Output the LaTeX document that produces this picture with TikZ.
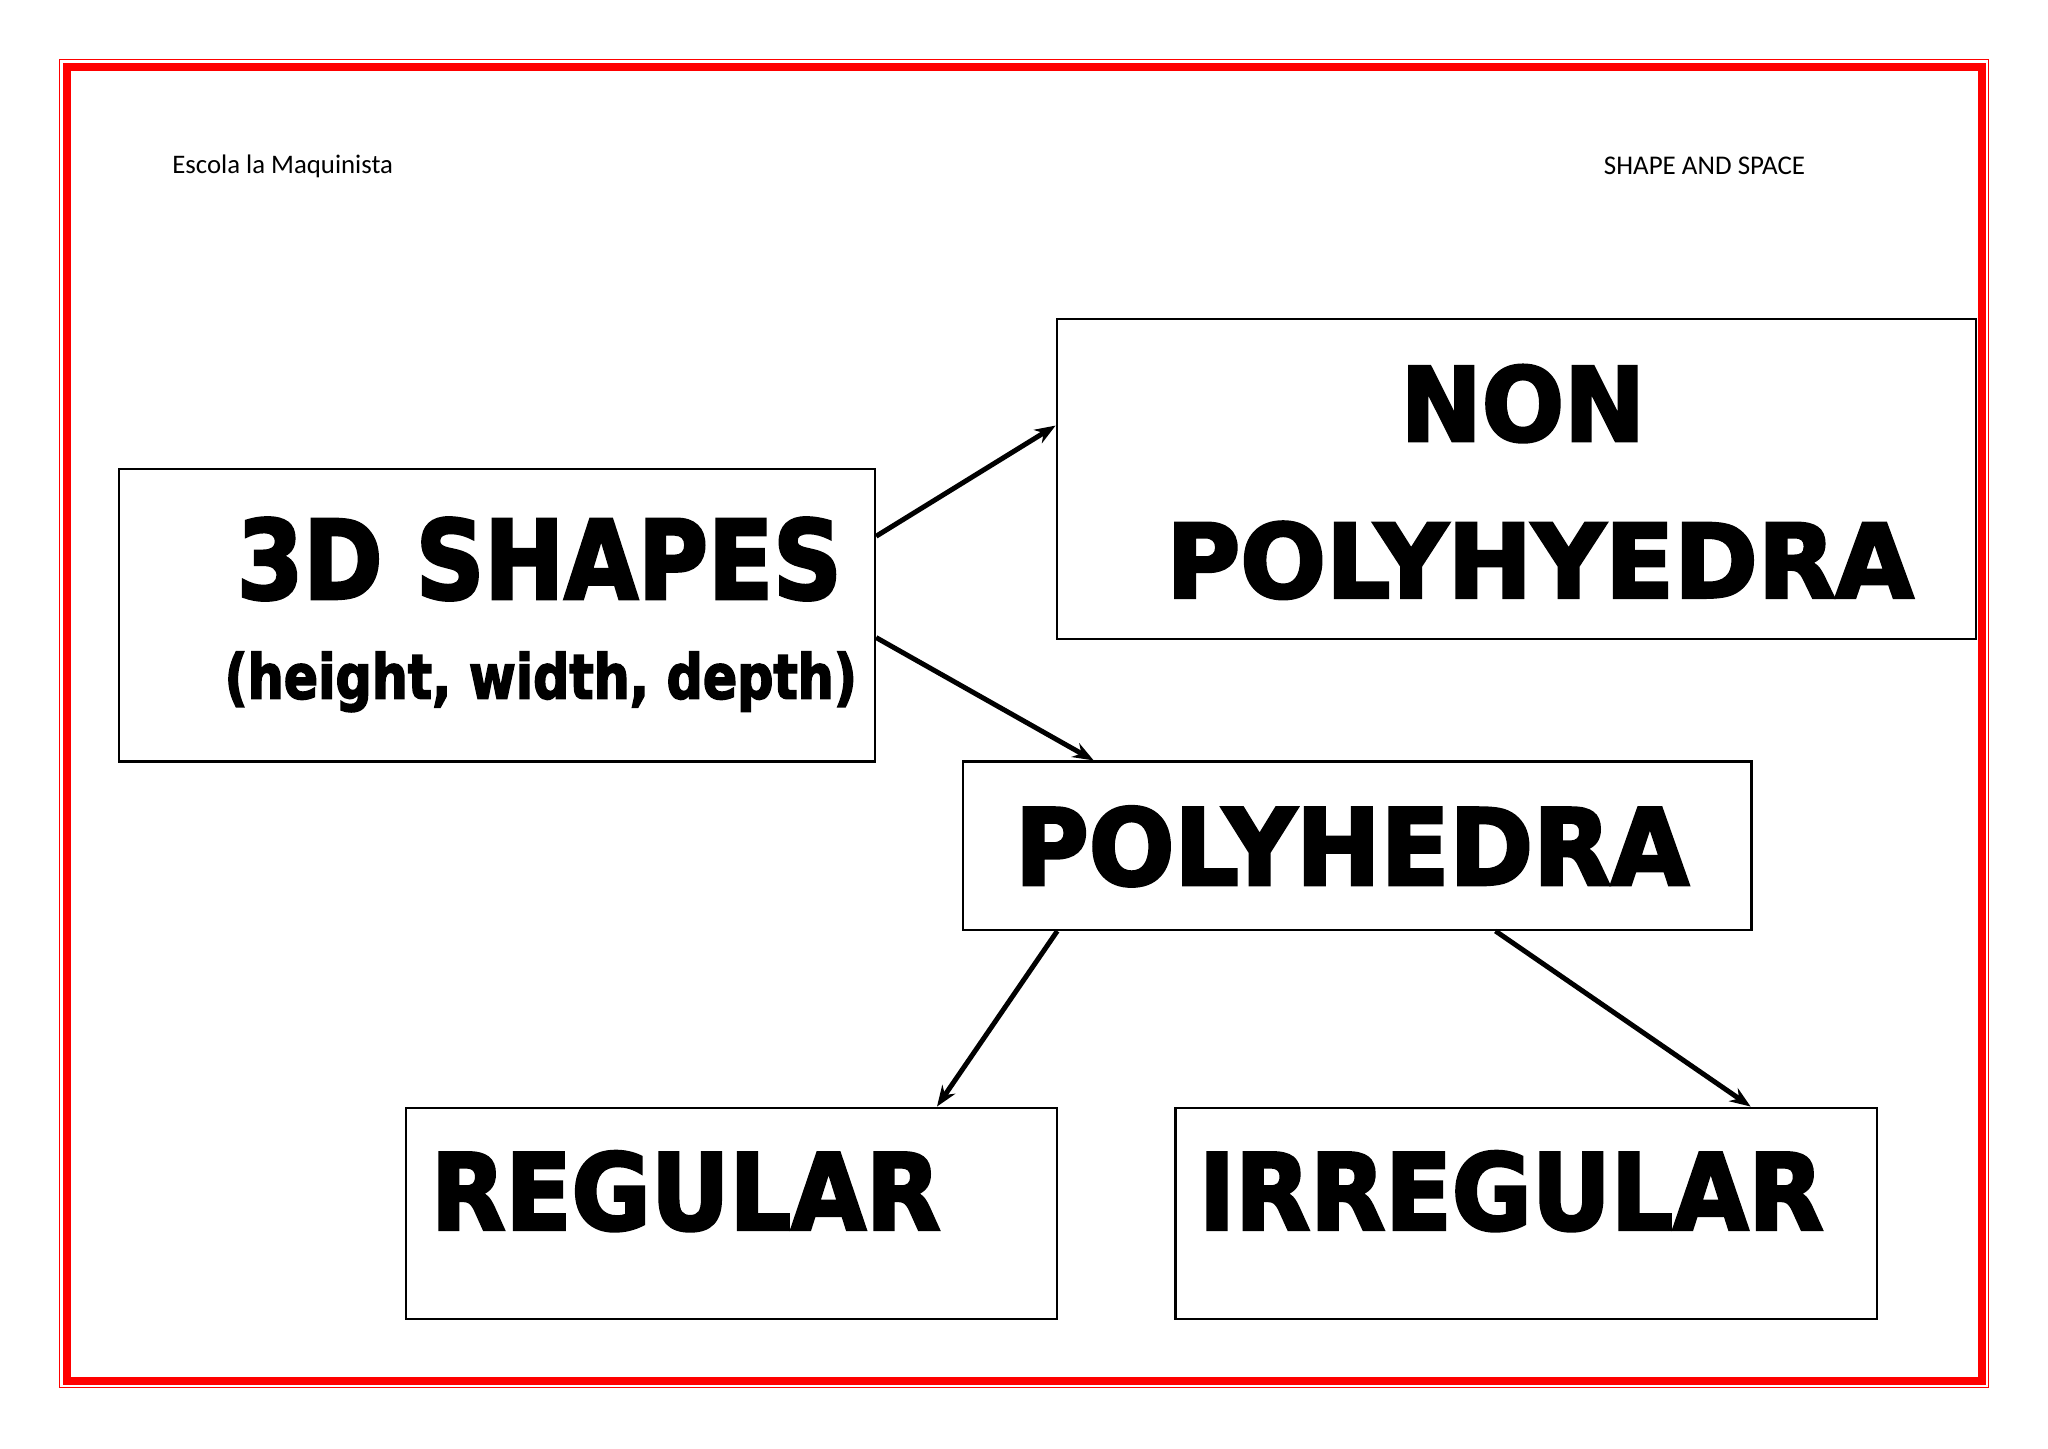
\documentclass[tikz,border=0pt]{standalone}
\usepackage{fontspec}
\usepackage{graphicx}
\usetikzlibrary{arrows.meta,calc}
\setmainfont{Carlito}
\newfontfamily\heavyfont{DejaVu Sans}[UprightFont=* Bold, UprightFeatures={FakeBold=3}]
\tikzset{
  box/.style={draw=black, line width=1.6pt, rectangle, inner sep=0pt, fill=white},
  conn/.style={draw=black, line width=3.8pt, -{Stealth[length=16pt,width=12pt]}},
  small/.style={inner sep=0pt, text=black},
  big/.style={inner sep=0pt, text=black}
}
\begin{document}
\begin{tikzpicture}[x=1pt,y=-1pt]
\useasboundingbox (0,0) rectangle (1568,1109);
\fill[white] (0,0) rectangle (1568,1109);
% page border
\draw[red, line width=1pt] (45.5,45.5) rectangle (1522.5,1062.5);
\draw[red, line width=6pt] (51,51) rectangle (1517.5,1057.5);
% header texts
\node[small] (school) at (216.5,127.5) {\resizebox{169pt}{!}{Escola la Maquinista}};
\node[small] (topic) at (1305,127) {\resizebox{154pt}{!}{SHAPE AND SPACE}};
% boxes
\node[box, minimum width=579pt, minimum height=224pt] (s) at (380.5,471) {};
\node[box, minimum width=704pt, minimum height=245pt] (n) at (1161,366.5) {};
\node[box, minimum width=604pt, minimum height=129pt] (p) at (1039,647.5) {};
\node[box, minimum width=498pt, minimum height=162pt] (r) at (560,929) {};
\node[box, minimum width=537pt, minimum height=162pt] (i) at (1168.5,929) {};
% texts
\node[big] (st) at (413,428) {\resizebox{463pt}{62pt}{\heavyfont 3D SHAPES}};
\node[big] (sd) at (414,522) {\resizebox*{484pt}{46pt}{\heavyfont (height, width, depth)}};
\node[big] (nt1) at (1166,309) {\resizebox{187pt}{58pt}{\heavyfont NON}};
\node[big] (nt2) at (1179,429) {\resizebox{572pt}{58pt}{\heavyfont POLYHYEDRA}};
\node[big] (pt) at (1035,648) {\resizebox{516pt}{60pt}{\heavyfont POLYHEDRA}};
\node[big] (rt) at (525,912) {\resizebox{390pt}{60pt}{\heavyfont REGULAR}};
\node[big] (it) at (1157,912) {\resizebox{478pt}{60pt}{\heavyfont IRREGULAR}};
% connectors
\draw[conn] ($(s.north east)!0.232!(s.south east)$) -- ($(n.north west)!0.335!(n.south west)$);
\draw[conn] ($(s.north east)!0.576!(s.south east)$) -- ($(p.north west)!0.167!(p.north east)$);
\draw[conn] ($(p.south west)!0.121!(p.south east)$) -- ($(r.north west)!0.815!(r.north east)$);
\draw[conn] ($(p.south west)!0.675!(p.south east)$) -- ($(i.north west)!0.819!(i.north east)$);
\end{tikzpicture}
\end{document}
